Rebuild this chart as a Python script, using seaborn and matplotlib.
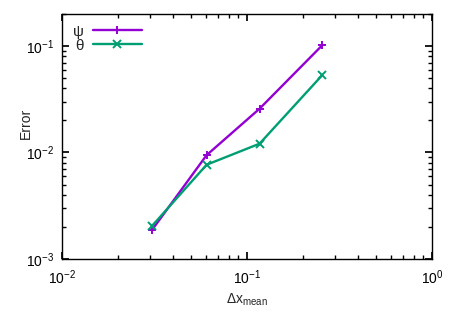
import matplotlib
matplotlib.use("Agg")
import matplotlib.pyplot as plt
from matplotlib.lines import Line2D
import seaborn as sns
import pandas as pd
import numpy as np

# mesh spacing and errors
dx_mean = [0.0306, 0.0605, 0.117, 0.255]
err_psi = [0.00186, 0.00944, 0.0258, 0.1016]
err_theta = [0.00203, 0.00767, 0.0121, 0.0532]
series_names = ["ψ", "θ"]
colors = ["#9400D3", "#009E73"]
marker_list = ["+", "x"]

df = pd.DataFrame({
    "dx": dx_mean * 2,
    "err": err_psi + err_theta,
    "var": [series_names[0]] * 4 + [series_names[1]] * 4,
})

sns.set_theme(style="ticks")
plt.rcParams['font.family'] = ['Liberation Sans', 'DejaVu Sans']
plt.rcParams['mathtext.fontset'] = 'custom'
plt.rcParams['mathtext.rm'] = 'Liberation Sans'
plt.rcParams['mathtext.it'] = 'Liberation Sans'
plt.rcParams['xtick.direction'] = 'in'
plt.rcParams['ytick.direction'] = 'in'

f, ax = plt.subplots(figsize=(4.58, 3.2), dpi=100)
plt.subplots_adjust(left=0.1354, right=0.943, top=0.956, bottom=0.191)

sns.lineplot(data=df, x="dx", y="err", hue="var", style="var",
             markers=marker_list, dashes=False, palette=colors,
             linewidth=1.7, markersize=5.5, markeredgewidth=1.4,
             legend=False, ax=ax)

# unfilled markers get a white edge from seaborn, colour them like the line
for line in ax.lines:
    line.set_markeredgecolor(line.get_color())

ax.set_xscale("log")
ax.set_yscale("log")
ax.set_xlim(1e-2, 1e0)
ax.set_ylim(1e-3, 0.2)

ax.tick_params(which="both", direction="in", top=True, right=True,
               labelsize=10, colors="black")
ax.tick_params(which="major", length=5)
ax.tick_params(which="minor", length=3)
ax.tick_params(axis="x", which="major", pad=7)
ax.tick_params(axis="y", which="major", pad=6)
for s in ax.spines.values():
    s.set_linewidth(1.0)
    s.set_color("black")

ax.set_xlabel(r"$\Delta$x$_{\mathrm{mean}}$", fontsize=10, labelpad=3)
ax.set_ylabel("Error", fontsize=10)
ax.yaxis.set_label_coords(-0.078, 0.555)

handles = [Line2D([], [], color=c, marker=m, markersize=5.5, markeredgewidth=1.4,
                  linewidth=1.7)
           for c, m in zip(colors, marker_list)]
ax.legend(handles, series_names, loc="upper left", markerfirst=False,
          frameon=False, handlelength=3.2, fontsize=11, borderaxespad=0.3,
          labelspacing=0.0, handletextpad=0.6)

plt.savefig("out.png", dpi=100)
